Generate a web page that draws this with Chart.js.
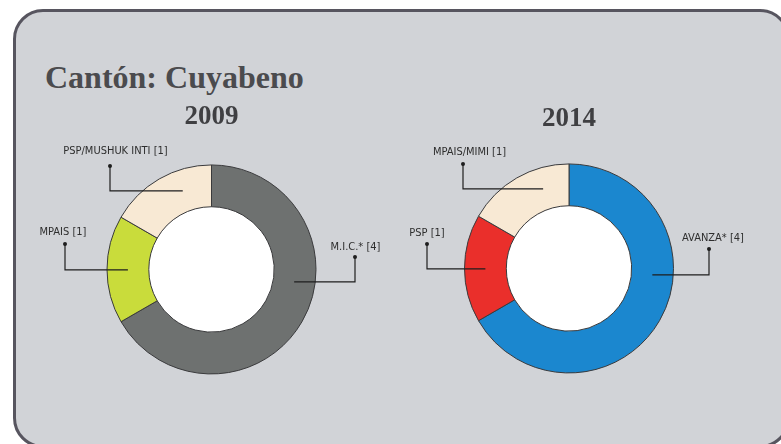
<!DOCTYPE html>
<html>
<head>
<meta charset="utf-8">
<script src="https://cdn.jsdelivr.net/npm/chart.js@4/dist/chart.umd.min.js"></script>
<style>
    html, body { margin: 0; padding: 0; background: #ffffff; }
    body { width: 781px; height: 444px; position: relative; overflow: hidden; }
    .panel {
        position: absolute; left: 13px; top: 9px; width: 771px; height: 433px;
        border: 3px solid #57555f; border-radius: 30px; background: #d1d3d7;
    }
    .title {
        position: absolute; left: 45px; top: 59px;
        font: bold 32px "Liberation Serif", "DejaVu Serif", serif;
        color: #4b4b4e; white-space: nowrap;
    }
    canvas { position: absolute; top: 0; }
    #chart2009 { left: 0; }
    #chart2014 { left: 390px; }
</style>
</head>
<body>
<div class="panel"></div>
<div class="title">Cantón: Cuyabeno</div>
<canvas id="chart2009" width="390" height="444"></canvas>
<canvas id="chart2014" width="390" height="444"></canvas>
<script>
// Data
const parties2009 = ['M.I.C.*', 'MPAIS', 'PSP/MUSHUK INTI'];
const seats2009 = [4, 1, 1];
const colors2009 = ['#6e7170', '#c9dc3b', '#f8e9d4'];

const parties2014 = ['AVANZA*', 'PSP', 'MPAIS/MIMI'];
const seats2014 = [4, 1, 1];
const colors2014 = ['#1b87cf', '#ea2f2b', '#f8e9d4'];

// label placement, relative to donut centre: text, dot, elbow height
const leaders2009 = [
    { tx: 144, ty: -22, dx: 143.5, dy: -12.5, ey: 12.5 },
    { tx: -148.5, ty: -37, dx: -146.5, dy: -25.5, ey: 0.5 },
    { tx: -96, ty: -118, dx: -101.5, dy: -103.5, ey: -78.5 }
];
const leaders2014 = [
    { tx: 144, ty: -30, dx: 140, dy: -19.5, ey: 6.5 },
    { tx: -142, ty: -35, dx: -142, dy: -24.5, ey: 0.5 },
    { tx: -99.5, ty: -116, dx: -106, dy: -104.5, ey: -79.5 }
];

const leaderPlugin = {
    id: 'leaders',
    beforeDatasetsDraw(chart) {
        const arc = chart.getDatasetMeta(0).data[0];
        const ctx = chart.ctx;
        ctx.save();
        ctx.beginPath();
        ctx.arc(arc.x, arc.y, arc.innerRadius, 0, Math.PI * 2);
        ctx.fillStyle = '#ffffff';
        ctx.fill();
        ctx.restore();
    },
    afterDatasetsDraw(chart, args, opts) {
        const meta = chart.getDatasetMeta(0);
        const arc = meta.data[0];
        const cx = arc.x, cy = arc.y;
        const rMid = (arc.innerRadius + arc.outerRadius) / 2;
        const labels = chart.data.labels;
        const values = chart.data.datasets[0].data;
        const ctx = chart.ctx;
        ctx.save();
        ctx.strokeStyle = '#1e1e1e';
        ctx.fillStyle = '#1e1e1e';
        ctx.lineWidth = 1.2;
        opts.layout.forEach(function(l, i) {
            const side = l.dx < 0 ? -1 : 1;
            const endX = cx + side * Math.sqrt(Math.max(rMid * rMid - l.ey * l.ey, 0));
            ctx.beginPath();
            ctx.moveTo(cx + l.dx, cy + l.dy);
            ctx.lineTo(cx + l.dx, cy + l.ey);
            ctx.lineTo(endX, cy + l.ey);
            ctx.stroke();
            ctx.beginPath();
            ctx.arc(cx + l.dx, cy + l.dy, 2, 0, Math.PI * 2);
            ctx.fill();
            ctx.font = '11px "Liberation Sans Narrow", "DejaVu Sans Condensed", Arial, sans-serif';
            ctx.fillStyle = '#2e2e2e';
            ctx.textAlign = 'center';
            ctx.textBaseline = 'middle';
            ctx.fillText(labels[i] + ' [' + values[i] + ']', cx + l.tx, cy + l.ty);
            ctx.fillStyle = '#1e1e1e';
        });
        ctx.restore();
    }
};

function makeDonut(id, year, labels, values, colors, layout, padding, titleBottom) {
    return new Chart(document.getElementById(id), {
        type: 'doughnut',
        data: {
            labels: labels,
            datasets: [{
                data: values,
                backgroundColor: colors,
                borderColor: '#3a3a3c',
                borderWidth: 1,
                hoverOffset: 0
            }]
        },
        options: {
            responsive: false,
            animation: false,
            cutout: '60%',
            layout: { padding: padding },
            events: [],
            plugins: {
                legend: { display: false },
                tooltip: { enabled: false },
                title: {
                    display: true,
                    text: year,
                    color: '#3f3f42',
                    font: { family: '"Liberation Serif", "DejaVu Serif", serif', size: 27, weight: 'bold', lineHeight: 1.2 },
                    padding: { top: 0, bottom: titleBottom }
                },
                leaders: { layout: layout }
            }
        },
        plugins: [leaderPlugin]
    });
}

makeDonut('chart2009', '2009', parties2009, seats2009, colors2009, leaders2009,
    { top: 101, left: 106.5, right: 73.5, bottom: 69.5 }, 31);
makeDonut('chart2014', '2014', parties2014, seats2014, colors2014, leaders2014,
    { top: 103, left: 74, right: 106, bottom: 70.5 }, 28);
</script>
</body>
</html>
